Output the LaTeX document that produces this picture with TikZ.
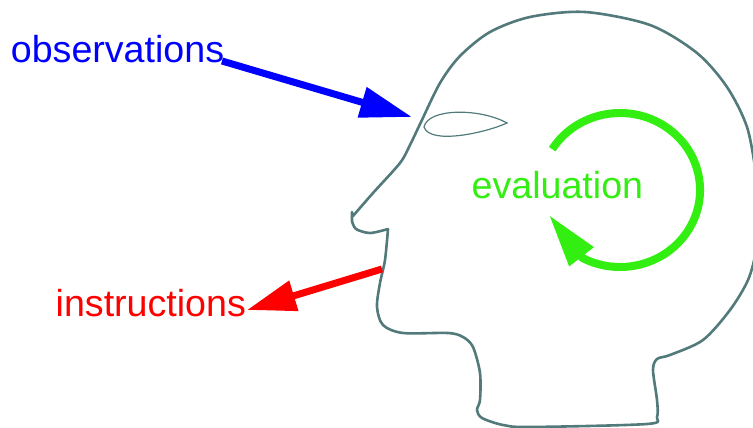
\documentclass[tikz,border=0pt]{standalone}
\usepackage{fontspec}
\setmainfont{Liberation Sans}
\usetikzlibrary{arrows.meta}
\definecolor{headcol}{RGB}{82,122,122}
\definecolor{evalgreen}{RGB}{51,238,17}
\definecolor{obsblue}{RGB}{0,0,255}
\definecolor{instrred}{RGB}{255,0,0}
\tikzset{
  label text/.style={inner sep=0pt, anchor=base west, font=\fontsize{37.6}{40}\selectfont},
  outline/.style={draw=headcol, line width=2.6pt, line join=round, line cap=round},
  eyeline/.style={draw=headcol, line width=1.2pt},
  obsarrow/.style={draw=obsblue, line width=7pt, -{Triangle[length=52pt,width=30pt]}},
  instrarrow/.style={draw=instrred, line width=7pt, -{Triangle[length=49pt,width=30pt]}},
  evalarrow/.style={draw=evalgreen, line width=8pt, -{Triangle[length=53pt,width=29pt]}},
}
\begin{document}
\begin{tikzpicture}[x=1pt,y=-1pt]
\useasboundingbox (0,0) rectangle (753,428);
% head outline
\draw[outline] (352,212) -- (352,221)
  plot[smooth] coordinates {(352,221) (356,229) (370,233) (388,229)}
  plot[smooth] coordinates {(388,229) (385,260) (380,283) (377,307) (383,325) (403,333) (448,333) (463,337) (473,347) (480,373) (480,400) (477,410) (482,418) (503,425) (530,427) (647,424) (657,417) (657,400) (653,370) (657,359) (670,355) (703,340) (730,310) (748,280) (756,250) (758,210) (756,175) (747,127) (727,87) (697,53) (650,25) (585,12) (530,17) (490,32) (460,56) (440,83) (421,122) (410,145) (400,163) (373,193) (353,216)};
% eye
\draw[eyeline] (424,127) .. controls (428,108) and (480,108) .. (507,123) .. controls (485,133) and (430,145) .. (424,127) -- cycle;
% texts
\node[label text, text=obsblue] (obs) at (10.7,62.5) {observations};
\node[label text, text=instrred] (instr) at (55.5,316.5) {instructions};
\node[label text, text=evalgreen] (eval) at (471.5,198) {evaluation};
% connector ends
\coordinate (obsstart) at (222,61);
\coordinate (eye) at (412,117);
\coordinate (mouth) at (382,269);
\coordinate (instrtip) at (247,310);
\coordinate (evalstart) at (552.2,149.2);
\coordinate (evaltip) at (549,215);
% arrows
\draw[obsarrow] (obsstart) -- (eye);
\draw[instrarrow] (mouth) -- (instrtip);
\draw[evalarrow] (evalstart) arc[start angle=-148, end angle=118, x radius=80, y radius=77] -- (evaltip);
\end{tikzpicture}
\end{document}
